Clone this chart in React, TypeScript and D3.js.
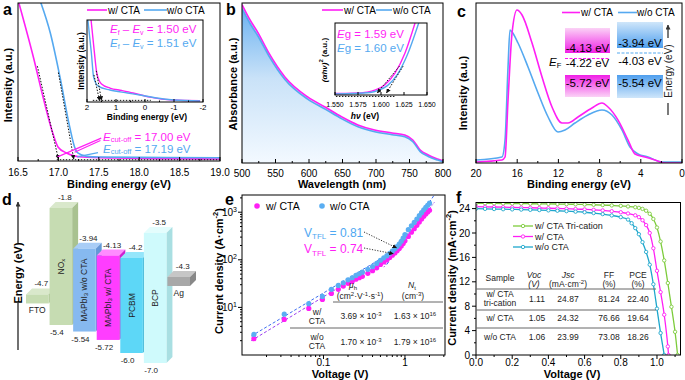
import React from "react";
import * as d3 from "d3";

const FONT = "'Liberation Sans', Arial, Helvetica, sans-serif";
const MAG = "#ff1ff5";
const BLU = "#55a9f0";
const GRN = "#7dcc3c";
const TEAL = "#1ea7cc";

// ===== Panel a =====
const aSeries = ["w/ CTA", "w/o CTA"];
const aTickVals = [16.5, 17.0, 17.5, 18.0, 18.5, 19.0];
const aMagE = [16.5, 16.69, 16.81, 16.93, 16.995, 17.1, 17.3, 17.72, 18.5, 19.0];
const aMagI = [102, 65.8, 40.5, 17.7, 8.9, 5.1, 2.5, 1.9, 1.4, 1.3];
const aBluE = [16.77, 16.9, 17.02, 17.14, 17.2, 17.24, 17.35, 17.51, 18.0, 19.0];
const aBluI = [102, 81, 53, 21.5, 8.9, 5.1, 2.9, 2.5, 2.3, 2.1];
const aCutoff = [17.0, 17.19];
const aInTicks = [2, 1, 0, -1, -2];
const aInMagE = [1.86, 1.75, 1.66, 1.5, 1.21, 0.8, 0.41, -0.17, -0.97, -1.9];
const aInMagI = [100, 62, 35, 22, 17, 14, 11, 6, 2.4, 1.5];
const aInBluE = [1.97, 1.85, 1.77, 1.6, 1.21, 0.6, 0.17, -0.41, -1.0, -1.9];
const aInBluI = [100, 60, 30, 19, 14.6, 11, 8.5, 4.9, 2.5, 1.2];
const aFermi = [1.5, 1.51];

// ===== Panel b =====
const bTickVals = [500, 550, 600, 650, 700, 750, 800];
const bWl = [500, 512, 524, 540, 564, 598, 624, 649, 673, 698, 724, 743, 755, 766, 778, 792, 800];
const bMag = [99, 89.4, 81.3, 68.8, 53.8, 41.3, 35, 28.8, 23.8, 20.6, 18.8, 17.5, 14.4, 8.1, 5, 2.5, 1.3];
const bBlu = [96.5, 87.2, 79.2, 67.0, 52.2, 39.9, 33.7, 27.6, 22.6, 19.5, 17.7, 16.4, 13.3, 7.1, 4.1, 1.8, 0.7];
const bInTicks = [1.55, 1.575, 1.6, 1.625, 1.65];
const bInMagX = [1.55, 1.57, 1.585, 1.594, 1.604, 1.615, 1.626, 1.637];
const bInMagY = [2, 2.5, 4, 7, 14, 30, 58, 100];
const bInBluX = [1.55, 1.57, 1.588, 1.597, 1.607, 1.618, 1.629, 1.641];
const bInBluY = [1.5, 2, 3.5, 6.5, 13, 29, 57, 100];
const bEg = [1.59, 1.6];

// ===== Panel c =====
const cTickVals = [20, 16, 12, 8, 4, 0];
const cMagE = [20, 17.48, 17.18, 16.89, 16.5, 16.02, 15.53, 14.56, 13.59, 12.62, 11.65, 11.07, 10.1, 8.74, 7.77, 7.18, 6.21, 5.24, 4.56, 3.59, 2.62, 1.65, 0];
const cMagI = [1.9, 3.1, 5, 40.6, 82.5, 96.9, 93.75, 76.25, 55, 36.25, 26.25, 26.25, 30, 35.6, 38.75, 36.25, 28.1, 15.6, 6.9, 5, 3.1, 1.25, 1.25];
const cBluE = [20, 17.48, 17.18, 16.89, 16.7, 16.5, 15.92, 14.95, 13.98, 13.0, 12.04, 11.36, 10.39, 9.13, 7.77, 6.8, 5.83, 5.05, 4.27, 3.3, 1.94, 0];
const cBluI = [3.1, 5, 15.6, 61.25, 84.4, 83.1, 76.25, 61.25, 45, 30, 20.6, 21.9, 26.25, 31.25, 34.4, 31.25, 21.9, 11.25, 6.9, 5, 1.9, 1.9];
const cMagLevels = [-4.13, -4.22, -5.72];
const cBluLevels = [-3.94, -4.03, -5.54];

// ===== Panel d =====
const dLayers = ["FTO", "NOx", "MAPbI3 w/o CTA", "MAPbI3 w/ CTA", "PCBM", "BCP", "Ag"];
const dTop = [-4.7, -1.8, -3.94, -4.13, -4.2, -3.5, -4.3];
const dBottom = [NaN, -5.4, -5.54, -5.72, -6.0, -7.0, NaN];

// ===== Panel e =====
const eSeries = ["w/ CTA", "w/o CTA"];
const eV = [0.014, 0.033, 0.066, 0.097, 0.125, 0.152, 0.175, 0.2, 0.225, 0.25, 0.275, 0.3, 0.35, 0.4, 0.45, 0.5, 0.55, 0.6, 0.65, 0.7, 0.75, 0.8, 0.85, 0.9, 0.95, 1.0, 1.1, 1.2, 1.3, 1.4, 1.5, 1.6, 1.7, 1.8, 1.9, 2.0];
const eJw = [2.2, 5.6, 9.5, 14.7, 19.7, 24, 28, 32, 35, 39, 42, 45, 52, 59, 68, 80, 90, 100, 112, 125, 138, 155, 172, 195, 220, 250, 310, 380, 450, 530, 620, 720, 820, 920, 1010, 1100];
const eJwo = [2.7, 7.2, 12, 17, 24, 29, 33, 38, 42, 47, 51, 55, 63, 72, 84, 98, 110, 122, 136, 152, 170, 190, 215, 245, 285, 340, 430, 520, 610, 720, 850, 980, 1120, 1260, 1400, 1550];
const eOhmW = { v: [0.013, 0.9], j: [2.0, 164] };
const eOhmWo = { v: [0.013, 1.0], j: [2.5, 211] };
const eTflW = { v: [0.55, 2.3], j: [70, 1620] };
const eTflWo = { v: [0.6, 2.25], j: [80, 2200] };
const eVtfl = [0.74, 0.81];
const eVtflJ = [134, 170];
const eMob = ["3.69", "1.70"];
const eNt = ["1.63", "1.79"];

// ===== Panel f =====
const fSeries = ["w/ CTA Tri-cation", "w/ CTA", "w/o CTA"];
const fBase = [0, 0.05, 0.1, 0.15, 0.2, 0.25, 0.3, 0.35, 0.4, 0.45, 0.5, 0.55, 0.6, 0.65, 0.7, 0.75, 0.8];
const fGreenV = [...fBase, 0.84, 0.88, 0.9, 0.92, 0.94, 0.96, 0.98, 1.0, 1.02, 1.04, 1.06, 1.08, 1.1, 1.114];
const fGreenJ = [24.87, 24.86, 24.85, 24.84, 24.83, 24.82, 24.8, 24.79, 24.77, 24.75, 24.73, 24.7, 24.67, 24.63, 24.58, 24.52, 24.45, 24.35, 24.22, 24.12, 23.95, 23.65, 23.15, 22.3, 20.9, 18.6, 15.5, 11.8, 7.9, 3.8, 0];
const fMagV = [...fBase, 0.84, 0.88, 0.9, 0.92, 0.94, 0.96, 0.98, 1.0, 1.02, 1.04, 1.06, 1.064];
const fMagJ = [24.32, 24.29, 24.26, 24.23, 24.2, 24.17, 24.14, 24.1, 24.06, 24.02, 23.98, 23.93, 23.87, 23.8, 23.7, 23.57, 23.4, 23.2, 22.9, 22.6, 22.1, 21.3, 20.0, 17.5, 13.8, 10.3, 6.6, 1.4, 0];
const fBluV = [...fBase, 0.84, 0.86, 0.88, 0.9, 0.92, 0.94, 0.96, 0.98, 1.0, 1.02, 1.04];
const fBluJ = [23.99, 23.96, 23.93, 23.9, 23.87, 23.84, 23.8, 23.76, 23.71, 23.65, 23.58, 23.5, 23.4, 23.27, 23.1, 22.88, 22.6, 22.2, 21.6, 20.8, 19.8, 18.5, 16.9, 14.8, 11.6, 7.6, 3.6, 0];
const fTabSample = [["w/ CTA", "tri-cation"], ["w/ CTA"], ["w/o CTA"]];
const fVoc = [1.11, 1.05, 1.06];
const fJsc = [24.87, 24.32, 23.99];
const fFF = [81.24, 76.66, 73.08];
const fPCE = [22.4, 19.64, 18.26];

const lineOf = (xs: number[], ys: number[], sx: any, sy: any, curve: any = d3.curveMonotoneX) =>
  d3.line<number>().x((d) => sx(xs[d])).y((d) => sy(ys[d])).curve(curve)(xs.map((_, i) => i)) || "";

const fmtD = (v: number) => (Math.abs(Math.round(v * 10) - v * 10) < 1e-9 ? v.toFixed(1) : v.toFixed(2));

function dName(name: string) {
  if (name === "NOx")
    return [<tspan key="a">NO</tspan>, <tspan key="b" fontSize={6} dy={2}>x</tspan>];
  if (name.startsWith("MAPbI3"))
    return [
      <tspan key="a">MAPbI</tspan>,
      <tspan key="b" fontSize={6} dy={2}>3</tspan>,
      <tspan key="c" dy={-2}>{name.slice(6)}</tspan>,
    ];
  return name;
}

export default function App() {
  const aX = d3.scaleLinear().domain([16.5, 19]).range([18, 220]);
  const aY = d3.scaleLinear().domain([0, 100]).range([161, 3]);
  const aiX = d3.scaleLinear().domain([2, -2]).range([87, 203]);
  const aiY = d3.scaleLinear().domain([0, 100]).range([102, 20]);
  const bX = d3.scaleLinear().domain([500, 800]).range([242, 443]);
  const bY = d3.scaleLinear().domain([0, 100]).range([163, 3]);
  const biX = d3.scaleLinear().domain([1.55, 1.65]).range([335, 427]);
  const biY = d3.scaleLinear().domain([0, 100]).range([95, 23]);
  const cX = d3.scaleLinear().domain([20, 0]).range([476, 682]);
  const cY = d3.scaleLinear().domain([0, 100]).range([165, 5]);
  const dY = d3.scaleLinear().domain([-1.8, -3.5, -4.2, -4.3, -5.4, -6.0, -7.0]).range([208, 233, 258, 277, 325, 353, 363]);
  const dX = d3.scaleBand().domain(dLayers).range([26, 191]);
  const eX = d3.scaleLog().domain([0.01, 3.1]).range([242, 445]);
  const eY = d3.scaleLog().domain([1, 2300]).range([355, 195]);
  const fX = d3.scaleLinear().domain([0, 1.13]).range([476, 680.5]);
  const fY = d3.scaleLinear().domain([0, 25]).range([355, 202.5]);

  const tick = { stroke: "#000", strokeWidth: 1 };
  const dot = { stroke: "#111", strokeWidth: 1, strokeDasharray: "1.5,1.5", fill: "none" };

  const bFill = d3.area<number>().x((d) => bX(bWl[d])).y0(bY(0)).y1((d) => bY(bBlu[d])).curve(d3.curveMonotoneX)(bWl.map((_, i) => i)) || "";
  const bPink = d3.area<number>().x((d) => bX(bWl[d])).y0((d) => bY(bBlu[d])).y1((d) => bY(bMag[d])).curve(d3.curveMonotoneX)(bWl.map((_, i) => i)) || "";

  const dColors = [
    ["#c6dcb2", "#a9c290", "#d9e8cb"],
    ["#c6dcb2", "#a9c290", "#d9e8cb"],
    ["#86b9f0", "#6499d6", "#a9cdf6"],
    ["#ff3dff", "#cf1fd0", "#ff8cff"],
    ["#5dd7f7", "#3fb5d6", "#95e6fb"],
    ["#cffafc", "#a9dfe2", "#e4fdfd"],
    ["#a8a8a8", "#888888", "#c6c6c6"],
  ];
  const dd = 6;

  const eMinorX = [0.02, 0.03, 0.04, 0.05, 0.06, 0.07, 0.08, 0.09, 0.2, 0.3, 0.4, 0.5, 0.6, 0.7, 0.8, 0.9, 2, 3];
  const eMinorY: number[] = [];
  [1, 10, 100, 1000].forEach((b) => [2, 3, 4, 5, 6, 7, 8, 9].forEach((m) => b * m <= 2300 && eMinorY.push(b * m)));

  return (
    <svg width={685} height={380} style={{ position: "absolute", left: 0, top: 0, background: "#fff" }} fontFamily={FONT}>
      <defs>
        <marker id="arr" viewBox="0 0 6 6" refX={5.5} refY={3} markerWidth={4.5} markerHeight={4.5} orient="auto" markerUnits="userSpaceOnUse">
          <path d="M0,0 L6,3 L0,6 Z" fill="#111" />
        </marker>
        <marker id="arrG" viewBox="0 0 6 6" refX={5.5} refY={3} markerWidth={5} markerHeight={5} orient="auto" markerUnits="userSpaceOnUse">
          <path d="M0,0 L6,3 L0,6 Z" fill="#333" />
        </marker>
        <linearGradient id="bGrad" x1="0" y1="0" x2="0" y2="1">
          <stop offset="0" stopColor="#6cb2f1" />
          <stop offset="0.45" stopColor="#c9e2f8" />
          <stop offset="1" stopColor="#f3f9ff" />
        </linearGradient>
        <linearGradient id="gMagUp" x1="0" y1="0" x2="0" y2="1">
          <stop offset="0" stopColor="#fbd2f6" />
          <stop offset="1" stopColor="#f01fe6" />
        </linearGradient>
        <linearGradient id="gMagDn" x1="0" y1="0" x2="0" y2="1">
          <stop offset="0" stopColor="#f01fe6" />
          <stop offset="1" stopColor="#fbd2f6" />
        </linearGradient>
        <linearGradient id="gBluUp" x1="0" y1="0" x2="0" y2="1">
          <stop offset="0" stopColor="#cfe6fa" />
          <stop offset="1" stopColor="#4f9fee" />
        </linearGradient>
        <linearGradient id="gBluDn" x1="0" y1="0" x2="0" y2="1">
          <stop offset="0" stopColor="#4f9fee" />
          <stop offset="1" stopColor="#cfe6fa" />
        </linearGradient>
        <clipPath id="clipA"><rect x={18} y={3} width={202} height={158} /></clipPath>
        <clipPath id="clipAi"><rect x={87} y={20} width={116} height={82} /></clipPath>
        <clipPath id="clipB"><rect x={242} y={3} width={201} height={160} /></clipPath>
        <clipPath id="clipBi"><rect x={335} y={23} width={92} height={72} /></clipPath>
        <clipPath id="clipC"><rect x={476} y={3} width={206} height={160} /></clipPath>
        <clipPath id="clipE"><rect x={242} y={195} width={203} height={160} /></clipPath>
        <clipPath id="clipF"><rect x={476} y={202.5} width={204.5} height={152.5} /></clipPath>
      </defs>

      {/* ================= Panel a ================= */}
      <g>
        <g clipPath="url(#clipA)">
          <path d={lineOf(aMagE, aMagI, aX, aY)} stroke={MAG} strokeWidth={1.6} fill="none" />
          <path d={lineOf(aBluE, aBluI, aX, aY)} stroke={BLU} strokeWidth={1.6} fill="none" />
        </g>
        <line x1={aX(16.74)} y1={aY(60)} x2={aX(aCutoff[0])} y2={aY(1.2)} {...dot} markerEnd="url(#arr)" />
        <line x1={aX(17.0)} y1={aY(56)} x2={aX(aCutoff[1])} y2={aY(1.2)} {...dot} markerEnd="url(#arr)" />
        <line x1={aX(16.98)} y1={aY(0.8)} x2={aX(19)} y2={aY(0.8)} {...dot} />
        <line x1={aX(17.53)} y1={aY(14.5)} x2={aX(16.99)} y2={aY(2.6)} stroke={MAG} strokeWidth={1.2} />
        <line x1={aX(17.52)} y1={aY(13)} x2={aX(17.2)} y2={aY(5.5)} stroke={MAG} strokeWidth={1.2} />
        <line x1={aX(17.49)} y1={aY(5.3)} x2={aX(17.23)} y2={aY(2.6)} stroke={BLU} strokeWidth={1.2} />
        <text x={103} y={140.5} fontSize={11.5} fill={MAG}>
          <tspan fontStyle="italic">E</tspan><tspan fontSize={7.5} dy={1.5}>cut-off</tspan><tspan dy={-1.5}>{` = ${aCutoff[0].toFixed(2)} eV`}</tspan>
        </text>
        <text x={103} y={152.5} fontSize={11.5} fill={BLU}>
          <tspan fontStyle="italic">E</tspan><tspan fontSize={7.5} dy={1.5}>cut-off</tspan><tspan dy={-1.5}>{` = ${aCutoff[1].toFixed(2)} eV`}</tspan>
        </text>
        <line x1={87} x2={107} y1={10} y2={10} stroke={MAG} strokeWidth={1.6} />
        <text x={108} y={13.5} fontSize={10}>{aSeries[0]}</text>
        <line x1={144} x2={167} y1={10} y2={10} stroke={BLU} strokeWidth={1.6} />
        <text x={167} y={13.5} fontSize={10}>{aSeries[1]}</text>
        <g clipPath="url(#clipAi)">
          <path d={lineOf(aInMagE, aInMagI, aiX, aiY)} stroke={MAG} strokeWidth={1.4} fill="none" />
          <path d={lineOf(aInBluE, aInBluI, aiX, aiY)} stroke={BLU} strokeWidth={1.4} fill="none" />
        </g>
        <line x1={aiX(1.8)} y1={aiY(2)} x2={aiX(-0.2)} y2={aiY(2)} {...dot} />
        <line x1={aiX(1.68)} y1={aiY(38)} x2={aiX(aFermi[0])} y2={aiY(2)} {...dot} markerEnd="url(#arr)" />
        <line x1={aiX(1.76)} y1={aiY(33)} x2={aiX(aFermi[1] + 0.06)} y2={aiY(2)} {...dot} markerEnd="url(#arr)" />
        <rect x={87} y={20} width={116} height={82} fill="none" stroke="#000" strokeWidth={1} />
        {aInTicks.map((t) => (
          <g key={t}>
            <line x1={aiX(t)} x2={aiX(t)} y1={102} y2={99} {...tick} />
            <text x={aiX(t)} y={110} fontSize={8} textAnchor="middle">{String(t)}</text>
          </g>
        ))}
        {[1.5, 0.5, -0.5, -1.5].map((t) => <line key={t} x1={aiX(t)} x2={aiX(t)} y1={102} y2={100.5} {...tick} />)}
        <text x={147} y={120} fontSize={8.5} fontWeight="bold" textAnchor="middle">Binding energy (eV)</text>
        <text transform="translate(81,61) rotate(-90)" fontSize={8.5} fontWeight="bold" textAnchor="middle" dominantBaseline="central">Intensity (a.u.)</text>
        <text x={110} y={33} fontSize={11.5} fill={MAG}>
          <tspan fontStyle="italic">E</tspan><tspan fontSize={7} dy={2}>f</tspan><tspan dy={-2}> – </tspan><tspan fontStyle="italic">E</tspan><tspan fontSize={7} dy={2}>v</tspan><tspan dy={-2}>{` = ${aFermi[0].toFixed(2)} eV`}</tspan>
        </text>
        <text x={110} y={47} fontSize={11.5} fill={BLU}>
          <tspan fontStyle="italic">E</tspan><tspan fontSize={7} dy={2}>f</tspan><tspan dy={-2}> – </tspan><tspan fontStyle="italic">E</tspan><tspan fontSize={7} dy={2}>v</tspan><tspan dy={-2}>{` = ${aFermi[1].toFixed(2)} eV`}</tspan>
        </text>
        <rect x={18} y={3} width={202} height={158} fill="none" stroke="#000" strokeWidth={1} />
        {aTickVals.map((t) => (
          <g key={t}>
            <line x1={aX(t)} x2={aX(t)} y1={161} y2={157} {...tick} />
            <text x={aX(t)} y={176} fontSize={10} textAnchor="middle">{t.toFixed(1)}</text>
          </g>
        ))}
        {[16.75, 17.25, 17.75, 18.25, 18.75].map((t) => <line key={t} x1={aX(t)} x2={aX(t)} y1={161} y2={159} {...tick} />)}
        <text x={119} y={188} fontSize={11} fontWeight="bold" textAnchor="middle">Binding energy (eV)</text>
        <text transform="translate(8,85) rotate(-90)" fontSize={11} fontWeight="bold" textAnchor="middle" dominantBaseline="central">Intensity (a.u.)</text>
        <text x={3} y={15} fontSize={16} fontWeight="bold">a</text>
      </g>

      {/* ================= Panel b ================= */}
      <g>
        <g clipPath="url(#clipB)">
          <path d={bFill} fill="url(#bGrad)" />
          <path d={bPink} fill="#f7b8f2" />
          <path d={lineOf(bWl, bMag, bX, bY)} stroke={MAG} strokeWidth={1.6} fill="none" />
          <path d={lineOf(bWl, bBlu, bX, bY)} stroke={BLU} strokeWidth={1.6} fill="none" />
        </g>
        <rect x={242} y={3} width={201} height={160} fill="none" stroke="#000" strokeWidth={1} />
        {bTickVals.map((t) => (
          <g key={t}>
            <line x1={bX(t)} x2={bX(t)} y1={163} y2={159} {...tick} />
            <text x={bX(t)} y={176.5} fontSize={10} textAnchor="middle">{String(t)}</text>
          </g>
        ))}
        {[525, 575, 625, 675, 725, 775].map((t) => <line key={t} x1={bX(t)} x2={bX(t)} y1={163} y2={161} {...tick} />)}
        <text x={342} y={188} fontSize={11} fontWeight="bold" textAnchor="middle">Wavelength (nm)</text>
        <text transform="translate(233,84) rotate(-90)" fontSize={11} fontWeight="bold" textAnchor="middle" dominantBaseline="central">Absorbance (a.u.)</text>
        <line x1={322} x2={343} y1={10} y2={10} stroke={MAG} strokeWidth={1.6} />
        <text x={344} y={13.5} fontSize={10}>{aSeries[0]}</text>
        <line x1={376} x2={392} y1={10} y2={10} stroke={BLU} strokeWidth={1.6} />
        <text x={393} y={13.5} fontSize={10}>{aSeries[1]}</text>
        <rect x={335} y={23} width={92} height={72} fill="#fff" stroke="none" />
        <g clipPath="url(#clipBi)">
          <path d={lineOf(bInMagX, bInMagY, biX, biY)} stroke={MAG} strokeWidth={1.4} fill="none" />
          <path d={lineOf(bInBluX, bInBluY, biX, biY)} stroke={BLU} strokeWidth={1.4} fill="none" />
        </g>
        <line x1={biX(1.551)} y1={biY(-2)} x2={biX(1.616)} y2={biY(-2)} {...dot} />
        <line x1={biX(1.62)} y1={biY(40)} x2={biX(bEg[0] + 0.006)} y2={biY(3)} {...dot} markerEnd="url(#arr)" />
        <line x1={biX(1.624)} y1={biY(40)} x2={biX(bEg[1] + 0.006)} y2={biY(3)} {...dot} markerEnd="url(#arr)" />
        <rect x={335} y={23} width={92} height={72} fill="none" stroke="#000" strokeWidth={1} />
        {bInTicks.map((t) => (
          <g key={t}>
            <line x1={biX(t)} x2={biX(t)} y1={95} y2={92} {...tick} />
            <text x={biX(t)} y={106.5} fontSize={7} textAnchor="middle">{t.toFixed(3)}</text>
          </g>
        ))}
        <text x={365} y={119} fontSize={8.5} fontWeight="bold" textAnchor="middle">
          <tspan fontStyle="italic">hν</tspan><tspan> (eV)</tspan>
        </text>
        <text transform="translate(324,60) rotate(-90)" fontSize={8} fontWeight="bold" textAnchor="middle" dominantBaseline="central">
          <tspan fontStyle="italic">(αhν)</tspan><tspan fontSize={6} dy={-3}>2</tspan><tspan dy={3}> (a.u.)</tspan>
        </text>
        <text x={337} y={38} fontSize={11.5} fill={MAG}>
          <tspan fontStyle="italic">E</tspan><tspan>{`g = ${bEg[0].toFixed(2)} eV`}</tspan>
        </text>
        <text x={337} y={52} fontSize={11.5} fill={BLU}>
          <tspan fontStyle="italic">E</tspan><tspan>{`g = ${bEg[1].toFixed(2)} eV`}</tspan>
        </text>
        <text x={226} y={15} fontSize={16} fontWeight="bold">b</text>
      </g>

      {/* ================= Panel c ================= */}
      <g>
        <g clipPath="url(#clipC)">
          <path d={lineOf(cBluE, cBluI, cX, cY)} stroke={BLU} strokeWidth={1.6} fill="none" />
          <path d={lineOf(cMagE, cMagI, cX, cY)} stroke={MAG} strokeWidth={1.6} fill="none" />
        </g>
        <rect x={476} y={3} width={206} height={160} fill="none" stroke="#000" strokeWidth={1} />
        {cTickVals.map((t) => (
          <g key={t}>
            <line x1={cX(t)} x2={cX(t)} y1={163} y2={159} {...tick} />
            <text x={cX(t)} y={176.5} fontSize={10} textAnchor="middle">{String(t)}</text>
          </g>
        ))}
        {[18, 14, 10, 6, 2].map((t) => <line key={t} x1={cX(t)} x2={cX(t)} y1={163} y2={161} {...tick} />)}
        <text x={579} y={188} fontSize={11} fontWeight="bold" textAnchor="middle">Binding energy (eV)</text>
        <text transform="translate(463,93) rotate(-90)" fontSize={11} fontWeight="bold" textAnchor="middle" dominantBaseline="central">Intensity (a.u.)</text>
        <line x1={562} x2={580} y1={12.5} y2={12.5} stroke={MAG} strokeWidth={1.6} />
        <text x={581} y={16} fontSize={10}>{aSeries[0]}</text>
        <line x1={618} x2={637} y1={12.5} y2={12.5} stroke={BLU} strokeWidth={1.6} />
        <text x={637} y={16} fontSize={10}>{aSeries[1]}</text>
        <rect x={565} y={28} width={45} height={25} fill="url(#gMagUp)" />
        <text x={587.5} y={52} fontSize={11.5} textAnchor="middle">{`${cMagLevels[0].toFixed(2)} eV`}</text>
        <line x1={565} x2={610} y1={58.5} y2={58.5} stroke={MAG} strokeWidth={1.2} strokeDasharray="3,1.5" />
        <text x={587.5} y={67} fontSize={11.5} textAnchor="middle">{`${cMagLevels[1].toFixed(2)} eV`}</text>
        <rect x={565} y={75} width={45} height={22} fill="url(#gMagDn)" />
        <text x={587.5} y={87} fontSize={11.5} textAnchor="middle">{`${cMagLevels[2].toFixed(2)} eV`}</text>
        <rect x={617} y={22} width={46} height={26} fill="url(#gBluUp)" />
        <text x={640} y={47} fontSize={11.5} textAnchor="middle">{`${cBluLevels[0].toFixed(2)} eV`}</text>
        <line x1={617} x2={663} y1={53} y2={53} stroke={BLU} strokeWidth={1.2} strokeDasharray="3,1.5" />
        <text x={640} y={65} fontSize={11.5} textAnchor="middle">{`${cBluLevels[1].toFixed(2)} eV`}</text>
        <rect x={617} y={75} width={46} height={23} fill="url(#gBluDn)" />
        <text x={640} y={87} fontSize={11.5} textAnchor="middle">{`${cBluLevels[2].toFixed(2)} eV`}</text>
        <text x={549} y={66} fontSize={11.5}>
          <tspan fontStyle="italic">E</tspan><tspan fontSize={7.5} dy={2}>F</tspan>
        </text>
        <line x1={668} x2={668} y1={115} y2={103} stroke="#222" strokeWidth={1.2} />
        <line x1={668} x2={668} y1={38} y2={25} stroke="#222" strokeWidth={1.2} markerEnd="url(#arrG)" />
        <text transform="translate(668,71) rotate(-90)" fontSize={10} textAnchor="middle" dominantBaseline="central" fill="#222">Energy (eV)</text>
        <text x={457} y={17} fontSize={16} fontWeight="bold">c</text>
      </g>

      {/* ================= Panel d ================= */}
      <g>
        <line x1={18} x2={18} y1={243} y2={202} stroke="#111" strokeWidth={1.2} markerEnd="url(#arrG)" />
        <line x1={18} x2={18} y1={350} y2={303} stroke="#111" strokeWidth={1.2} />
        <text transform="translate(18,273) rotate(-90)" fontSize={11} fontWeight="bold" textAnchor="middle" dominantBaseline="central">Energy (eV)</text>
        {dLayers.map((name, i) => {
          const x = dX(name)!;
          const w = dX.bandwidth() - 1;
          const yt = dY(dTop[i]);
          const thin = isNaN(dBottom[i]);
          const yb = thin ? yt + 9 : dY(dBottom[i]);
          const [front, side, top] = dColors[i];
          return (
            <g key={name}>
              <polygon points={`${x},${yt} ${x + dd},${yt - dd} ${x + w + dd},${yt - dd} ${x + w},${yt}`} fill={top} />
              <polygon points={`${x + w},${yt} ${x + w + dd},${yt - dd} ${x + w + dd},${yb - dd} ${x + w},${yb}`} fill={side} />
              <rect x={x} y={yt} width={w} height={yb - yt} fill={front} />
              {!thin && (
                <text transform={`translate(${x + w / 2},${(yt + yb) / 2}) rotate(-90)`} fontSize={8.5} textAnchor="middle" dominantBaseline="central" fill="#222">
                  {dName(name)}
                </text>
              )}
              {thin && (
                <text x={x + w / 2} y={yb + 10} fontSize={8.5} textAnchor="middle" fill="#222">{name}</text>
              )}
              <text x={x + w / 2 + 4} y={yt - 8} fontSize={8} textAnchor="middle" fill="#222">{fmtD(dTop[i])}</text>
              {!thin && (
                <text x={x + w / 2 - 4} y={yb + 10} fontSize={8} textAnchor="middle" fill="#222">{fmtD(dBottom[i])}</text>
              )}
            </g>
          );
        })}
        <text x={2} y={205} fontSize={16} fontWeight="bold">d</text>
      </g>

      {/* ================= Panel e ================= */}
      <g>
        <g clipPath="url(#clipE)">
          <path d={lineOf(eOhmW.v, eOhmW.j, eX, eY, d3.curveLinear)} stroke="#9b3cf0" strokeWidth={1} strokeDasharray="3,2" fill="none" />
          <path d={lineOf(eOhmWo.v, eOhmWo.j, eX, eY, d3.curveLinear)} stroke="#3d6df2" strokeWidth={1} strokeDasharray="3,2" fill="none" />
          <path d={lineOf(eTflW.v, eTflW.j, eX, eY, d3.curveLinear)} stroke="#a85cf0" strokeWidth={1} strokeDasharray="1.5,1.5" fill="none" />
          <path d={lineOf(eTflWo.v, eTflWo.j, eX, eY, d3.curveLinear)} stroke="#3d6df2" strokeWidth={1} strokeDasharray="3,2" fill="none" />
          {eV.map((v, i) => <circle key={"m" + i} cx={eX(v)} cy={eY(eJw[i])} r={2.6} fill={MAG} />)}
          {eV.map((v, i) => <circle key={"b" + i} cx={eX(v)} cy={eY(eJwo[i])} r={2.6} fill="#5aaef2" />)}
        </g>
        <rect x={242} y={195} width={203} height={160} fill="none" stroke="#000" strokeWidth={1} />
        {[0.1, 1].map((t) => (
          <g key={t}>
            <line x1={eX(t)} x2={eX(t)} y1={355} y2={359} {...tick} />
            <text x={eX(t)} y={365.5} fontSize={10} textAnchor="middle">{String(t)}</text>
          </g>
        ))}
        {eMinorX.map((t) => <line key={t} x1={eX(t)} x2={eX(t)} y1={355} y2={357} {...tick} />)}
        {[10, 100, 1000].map((t) => (
          <g key={t}>
            <line x1={242} x2={238} y1={eY(t)} y2={eY(t)} {...tick} />
            <text x={237} y={eY(t) + 3.5} fontSize={10} textAnchor="end">
              <tspan>10</tspan><tspan fontSize={7} dy={-4}>{String(Math.round(Math.log10(t)))}</tspan>
            </text>
          </g>
        ))}
        {eMinorY.map((t) => <line key={t} x1={242} x2={240} y1={eY(t)} y2={eY(t)} {...tick} />)}
        <text x={340} y={377.5} fontSize={11} fontWeight="bold" textAnchor="middle">Voltage (V)</text>
        <text transform="translate(219,271) rotate(-90)" fontSize={11} fontWeight="bold" textAnchor="middle" dominantBaseline="central">
          <tspan>Current density (A·cm</tspan><tspan fontSize={7.5} dy={-4}>-2</tspan><tspan dy={4}>)</tspan>
        </text>
        <circle cx={257} cy={206} r={2.8} fill={MAG} />
        <text x={266} y={210} fontSize={10.5}>{eSeries[0]}</text>
        <circle cx={322} cy={206} r={2.8} fill="#5aaef2" />
        <text x={330} y={210} fontSize={10.5}>{eSeries[1]}</text>
        <text x={304} y={236.5} fontSize={12} fill="#4ea8f2">
          <tspan>V</tspan><tspan fontSize={8} dy={2.5}>TFL</tspan><tspan dy={-2.5}>{` = ${eVtfl[1].toFixed(2)}`}</tspan>
        </text>
        <text x={304} y={253} fontSize={12} fill={MAG}>
          <tspan>V</tspan><tspan fontSize={8} dy={2.5}>TFL</tspan><tspan dy={-2.5}>{` = ${eVtfl[0].toFixed(2)}`}</tspan>
        </text>
        <line x1={364} y1={232} x2={eX(eVtfl[1]) - 1} y2={eY(eVtflJ[1]) - 1} stroke="#333" strokeWidth={1} strokeDasharray="1.2,1.5" markerEnd="url(#arr)" />
        <line x1={364} y1={248} x2={eX(eVtfl[0]) - 1} y2={eY(eVtflJ[0])} stroke="#333" strokeWidth={1} strokeDasharray="1.2,1.5" markerEnd="url(#arr)" />
        <line x1={333} x2={443} y1={302} y2={302} stroke="#666" strokeWidth={1} />
        <line x1={290} x2={443} y1={328} y2={328} stroke="#666" strokeWidth={1} />
        <text x={353} y={287.5} fontSize={8.5} textAnchor="middle" fill="#222">
          <tspan fontStyle="italic">μ</tspan><tspan fontSize={6} dy={2}>h</tspan>
        </text>
        <text x={360} y={298.5} fontSize={8.5} textAnchor="middle" fill="#222">
          <tspan>(cm</tspan><tspan fontSize={6} dy={-3}>2</tspan><tspan dy={3}>·V</tspan><tspan fontSize={6} dy={-3}>-1</tspan><tspan dy={3}>·s</tspan><tspan fontSize={6} dy={-3}>-1</tspan><tspan dy={3}>)</tspan>
        </text>
        <text x={412} y={287.5} fontSize={8.5} textAnchor="middle" fill="#222">
          <tspan fontStyle="italic">N</tspan><tspan fontSize={6} dy={2}>t</tspan>
        </text>
        <text x={413} y={298.5} fontSize={8.5} textAnchor="middle" fill="#222">
          <tspan>(cm</tspan><tspan fontSize={6} dy={-3}>-3</tspan><tspan dy={3}>)</tspan>
        </text>
        {eSeries.map((s, i) => {
          const [p1, p2] = s.split(" ");
          const base = i === 0 ? 314.5 : 340;
          const vy = i === 0 ? 319 : 344.5;
          return (
            <g key={s} fill="#222">
              <text x={317} y={base} fontSize={8.5} textAnchor="middle">{p1}</text>
              <text x={317} y={base + 9} fontSize={8.5} textAnchor="middle">{p2}</text>
              <text x={361} y={vy} fontSize={8.5} textAnchor="middle">
                <tspan>{`${eMob[i]} × 10`}</tspan><tspan fontSize={6} dy={-3}>-3</tspan>
              </text>
              <text x={415} y={vy} fontSize={8.5} textAnchor="middle">
                <tspan>{`${eNt[i]} × 10`}</tspan><tspan fontSize={6} dy={-3}>16</tspan>
              </text>
            </g>
          );
        })}
        <text x={225} y={205} fontSize={16} fontWeight="bold">e</text>
      </g>

      {/* ================= Panel f ================= */}
      <g>
        <g clipPath="url(#clipF)">
          {[
            [fGreenV, fGreenJ, GRN],
            [fMagV, fMagJ, MAG],
            [fBluV, fBluJ, TEAL],
          ].map(([vs, js, col]: any, k) => (
            <g key={k}>
              <path d={lineOf(vs, js, fX, fY)} stroke={col} strokeWidth={1.3} fill="none" />
              {vs.map((v: number, i: number) => (
                <circle key={i} cx={fX(v)} cy={fY(js[i])} r={1.7} fill="#fff" stroke={col} strokeWidth={0.9} />
              ))}
            </g>
          ))}
        </g>
        <rect x={476} y={202.5} width={204.5} height={152.5} fill="none" stroke="#000" strokeWidth={1} />
        {[0, 0.2, 0.4, 0.6, 0.8, 1.0].map((t) => (
          <g key={t}>
            <line x1={fX(t)} x2={fX(t)} y1={355} y2={359} {...tick} />
            <text x={fX(t)} y={366} fontSize={10} textAnchor="middle">{t.toFixed(1)}</text>
          </g>
        ))}
        {[0.1, 0.3, 0.5, 0.7, 0.9, 1.1].map((t) => <line key={t} x1={fX(t)} x2={fX(t)} y1={355} y2={357} {...tick} />)}
        {[0, 4, 8, 12, 16, 20, 24].map((t) => (
          <g key={t}>
            <line x1={476} x2={472} y1={fY(t)} y2={fY(t)} {...tick} />
            <text x={470} y={fY(t) + 3.5} fontSize={10} textAnchor="end">{String(t)}</text>
          </g>
        ))}
        {[2, 6, 10, 14, 18, 22].map((t) => <line key={t} x1={476} x2={474} y1={fY(t)} y2={fY(t)} {...tick} />)}
        <text x={572} y={377.5} fontSize={11} fontWeight="bold" textAnchor="middle">Voltage (V)</text>
        <text transform="translate(452,278) rotate(-90)" fontSize={11} fontWeight="bold" textAnchor="middle" dominantBaseline="central">
          <tspan>Current density (mA·cm</tspan><tspan fontSize={7.5} dy={-4}>-2</tspan><tspan dy={4}>)</tspan>
        </text>
        {fSeries.map((s, i) => {
          const col = [GRN, MAG, TEAL][i];
          const y = 226 + i * 10.5;
          return (
            <g key={s}>
              <line x1={513} x2={533} y1={y} y2={y} stroke={col} strokeWidth={1.3} />
              <circle cx={523} cy={y} r={1.7} fill="#fff" stroke={col} strokeWidth={0.9} />
              <text x={535} y={y + 3.3} fontSize={9} fill="#222">{s}</text>
            </g>
          );
        })}
        {[289, 310, 328].map((y) => <line key={y} x1={476} x2={656} y1={y} y2={y} stroke="#666" strokeWidth={1} />)}
        <g fontSize={8.5} fill="#222" textAnchor="middle">
          <text x={500} y={281}>Sample</text>
          <text x={534} y={277.5}><tspan fontStyle="italic">Voc</tspan></text>
          <text x={534} y={286.5}><tspan fontStyle="italic">(V)</tspan></text>
          <text x={568} y={277.5}><tspan fontStyle="italic">Jsc</tspan></text>
          <text x={568} y={286.5}><tspan>(mA·cm</tspan><tspan fontSize={6} dy={-3}>-2</tspan><tspan dy={3}>)</tspan></text>
          <text x={609} y={277.5}>FF</text>
          <text x={609} y={286.5}>(%)</text>
          <text x={638} y={277.5}>PCE</text>
          <text x={638} y={286.5}>(%)</text>
          {fTabSample.map((lab, i) => {
            const vy = [301.5, 321, 340][i];
            return (
              <g key={i}>
                {lab.length === 2 ? (
                  <>
                    <text x={500} y={297}>{lab[0]}</text>
                    <text x={500} y={305.5}>{lab[1]}</text>
                  </>
                ) : (
                  <text x={500} y={vy}>{lab[0]}</text>
                )}
                <text x={537} y={vy}>{fVoc[i].toFixed(2)}</text>
                <text x={568} y={vy}>{fJsc[i].toFixed(2)}</text>
                <text x={609} y={vy}>{fFF[i].toFixed(2)}</text>
                <text x={638} y={vy}>{fPCE[i].toFixed(2)}</text>
              </g>
            );
          })}
        </g>
        <text x={456} y={203} fontSize={16} fontWeight="bold">f</text>
      </g>
    </svg>
  );
}
